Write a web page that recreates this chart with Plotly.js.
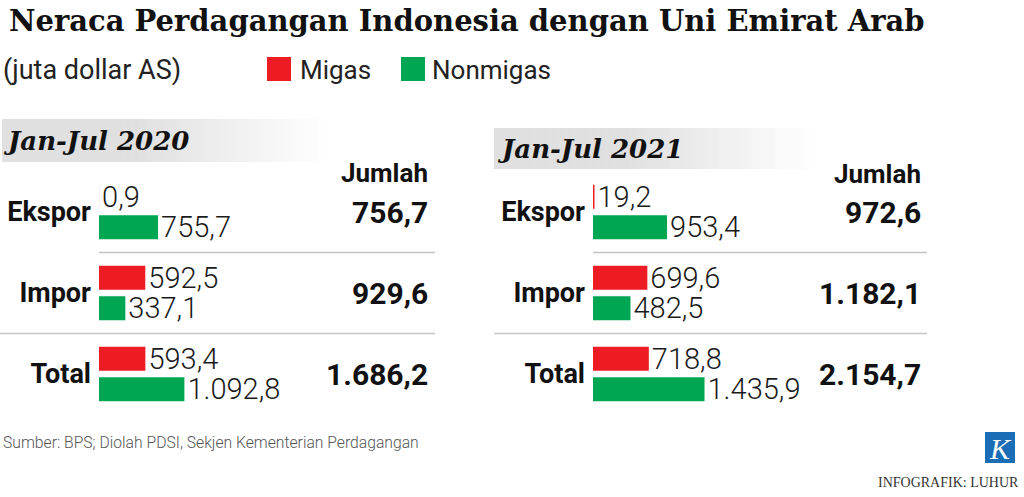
<!DOCTYPE html>
<html>
<head>
<meta charset="utf-8">
<script src="https://cdn.plot.ly/plotly-3.0.1.min.js"></script>
<style>
    html, body { margin: 0; padding: 0; background: #fff; }
    #chart { width: 1024px; height: 497px; }
</style>
</head>
<body>
<div id="chart"></div>
<script>
// data
const categories = ['Ekspor', 'Impor', 'Total'];
const seriesNames = ['Migas', 'Nonmigas'];
const periods = ['Jan-Jul 2020', 'Jan-Jul 2021'];

const migas2020 = [0.9, 592.5, 593.4];
const nonmigas2020 = [755.7, 337.1, 1092.8];
const jumlah2020 = [756.7, 929.6, 1686.2];

const migas2021 = [19.2, 699.6, 718.8];
const nonmigas2021 = [953.4, 482.5, 1435.9];
const jumlah2021 = [972.6, 1182.1, 2154.7];

const RED = '#ED1C24';
const GREEN = '#00A651';
const W = 1024, H = 497;

// pixel helpers -> paper coords
const px = x => x / W;
const py = y => 1 - y / H;

const labelFont = { family: 'Roboto', size: 29, color: '#1a1a1a', weight: 300 };

function barTrace(vals, name, color, xa, ya) {
    return {
        type: 'bar',
        orientation: 'h',
        name: name,
        x: vals,
        y: categories,
        xaxis: xa,
        yaxis: ya,
        marker: { color: color, line: { width: 0 } },
        texttemplate: '%{x:,.1f}',
        textposition: 'outside',
        textfont: labelFont,
        constraintext: 'none',
        cliponaxis: false,
        showlegend: false
    };
}

const traces = [
    barTrace(migas2020, seriesNames[0], RED, 'x', 'y'),
    barTrace(nonmigas2020, seriesNames[1], GREEN, 'x', 'y'),
    barTrace(migas2021, seriesNames[0], RED, 'x2', 'y2'),
    barTrace(nonmigas2021, seriesNames[1], GREEN, 'x2', 'y2')
];

const yDomain = [py(414.5), py(171.5)];

const yAxisBase = {
    type: 'category',
    range: [2.5, -0.5],
    domain: yDomain,
    showgrid: false,
    zeroline: false,
    showline: false,
    ticks: '',
    ticklabelstandoff: 7,
    tickfont: { family: 'Roboto', size: 27, color: '#111', weight: 'bold' },
    fixedrange: true
};

const xAxisBase = {
    range: [0, 4300],
    showgrid: false,
    zeroline: false,
    showline: false,
    showticklabels: false,
    ticks: '',
    fixedrange: true
};

// header bands with a grey-to-white fade
const shapes = [];
function band(x0, x1, y0, y1) {
    const steps = 40;
    const solid = 0.4;
    for (let i = 0; i < steps; i++) {
        const t = i / steps;
        let k = t < solid ? 0 : (t - solid) / (1 - solid);
        const c = Math.round(224 + (255 - 224) * k);
        shapes.push({
            type: 'rect', xref: 'paper', yref: 'paper', layer: 'below',
            x0: px(x0 + (x1 - x0) * t), x1: px(x0 + (x1 - x0) * (i + 1) / steps + 0.5),
            y0: py(y1), y1: py(y0),
            fillcolor: `rgb(${c},${c},${c})`, line: { width: 0 }
        });
    }
}
band(2, 325, 119, 162);
band(494, 815, 128, 169);

// row separators
function sep(x0, x1, yv, yref) {
    shapes.push({
        type: 'line', xref: 'paper', yref: yref,
        x0: px(x0), x1: px(x1), y0: yv, y1: yv,
        line: { color: '#c4c4c4', width: 1.5 }
    });
}
sep(99, 435, 0.5, 'y');
sep(0, 435, 1.5, 'y');
sep(593, 927, 0.5, 'y2');
sep(494, 927, 1.5, 'y2');

// legend squares
shapes.push({ type: 'rect', xref: 'paper', yref: 'paper', x0: px(267), x1: px(291), y0: py(81), y1: py(57), fillcolor: RED, line: { width: 0 } });
shapes.push({ type: 'rect', xref: 'paper', yref: 'paper', x0: px(401), x1: px(425), y0: py(81), y1: py(57), fillcolor: GREEN, line: { width: 0 } });

// logo box
shapes.push({ type: 'rect', xref: 'paper', yref: 'paper', x0: px(986), x1: px(1014), y0: py(462), y1: py(433), fillcolor: '#1B6DB5', line: { color: '#1B6DB5', width: 2 } });

function note(text, x, y, opts) {
    return Object.assign({
        text: text, xref: 'paper', yref: 'paper',
        x: px(x), y: py(y), xanchor: 'left', yanchor: 'middle',
        showarrow: false
    }, opts || {});
}

const annotations = [
    note('Neraca Perdagangan Indonesia dengan Uni Emirat Arab', 7, 21,
        { font: { family: 'DejaVu Serif', size: 29, color: '#111', weight: 'bold' } }),
    note('(juta dollar AS)', 1, 70, { font: { family: 'Roboto', size: 27, color: '#222' } }),
    note(seriesNames[0], 298, 70, { font: { family: 'Roboto', size: 26, color: '#222' } }),
    note(seriesNames[1], 430, 70, { font: { family: 'Roboto', size: 26, color: '#222' } }),
    note(periods[0], 1, 141, { font: { family: 'DejaVu Serif', size: 26, color: '#111', weight: 'bold', style: 'italic' } }),
    note(periods[1], 495, 149, { font: { family: 'DejaVu Serif', size: 26, color: '#111', weight: 'bold', style: 'italic' } }),
    note('Jumlah', 430, 173, { xanchor: 'right', font: { family: 'Roboto', size: 26, color: '#111', weight: 'bold' } }),
    note('Jumlah', 923, 174, { xanchor: 'right', font: { family: 'Roboto', size: 26, color: '#111', weight: 'bold' } }),
    note('Sumber: BPS; Diolah PDSI, Sekjen Kementerian Perdagangan', 1, 442,
        { font: { family: 'Roboto', size: 15.7, color: '#555', weight: 300 } }),
    note('K', 1000, 448, { xanchor: 'center', font: { family: 'Liberation Serif', size: 30, color: '#fff', style: 'italic' } }),
    note('INFOGRAFIK: LUHUR', 1021, 482, { xanchor: 'right', font: { family: 'Liberation Serif', size: 14, color: '#333' } })
];

function totalNote(val, x, yref, cat) {
    const s = val.toFixed(1).split('.');
    const intPart = s[0].replace(/\B(?=(\d{3})+(?!\d))/g, '.');
    return {
        text: intPart + ',' + s[1], xref: 'paper', yref: yref,
        x: px(x), y: cat, xanchor: 'right', yanchor: 'middle', showarrow: false,
        font: { family: 'Roboto', size: 30, color: '#111', weight: 'bold' }
    };
}
categories.forEach((c, i) => {
    annotations.push(totalNote(jumlah2020[i], 430, 'y', c));
    annotations.push(totalNote(jumlah2021[i], 923, 'y2', c));
});

const layout = {
    width: W,
    height: H,
    margin: { l: 0, r: 0, t: 0, b: 0, pad: 0 },
    paper_bgcolor: '#fff',
    plot_bgcolor: 'rgba(0,0,0,0)',
    separators: ',.',
    barmode: 'group',
    bargap: 0.247,
    bargroupgap: 0.213,
    showlegend: false,
    hovermode: false,
    xaxis: Object.assign({}, xAxisBase, { domain: [px(99), px(435)], anchor: 'y' }),
    yaxis: Object.assign({}, yAxisBase, { anchor: 'x' }),
    xaxis2: Object.assign({}, xAxisBase, { domain: [px(593), px(927)], anchor: 'y2' }),
    yaxis2: Object.assign({}, yAxisBase, { anchor: 'x2' }),
    shapes: shapes,
    annotations: annotations
};

Plotly.newPlot('chart', traces, layout, { displayModeBar: false, staticPlot: true });
</script>
</body>
</html>
